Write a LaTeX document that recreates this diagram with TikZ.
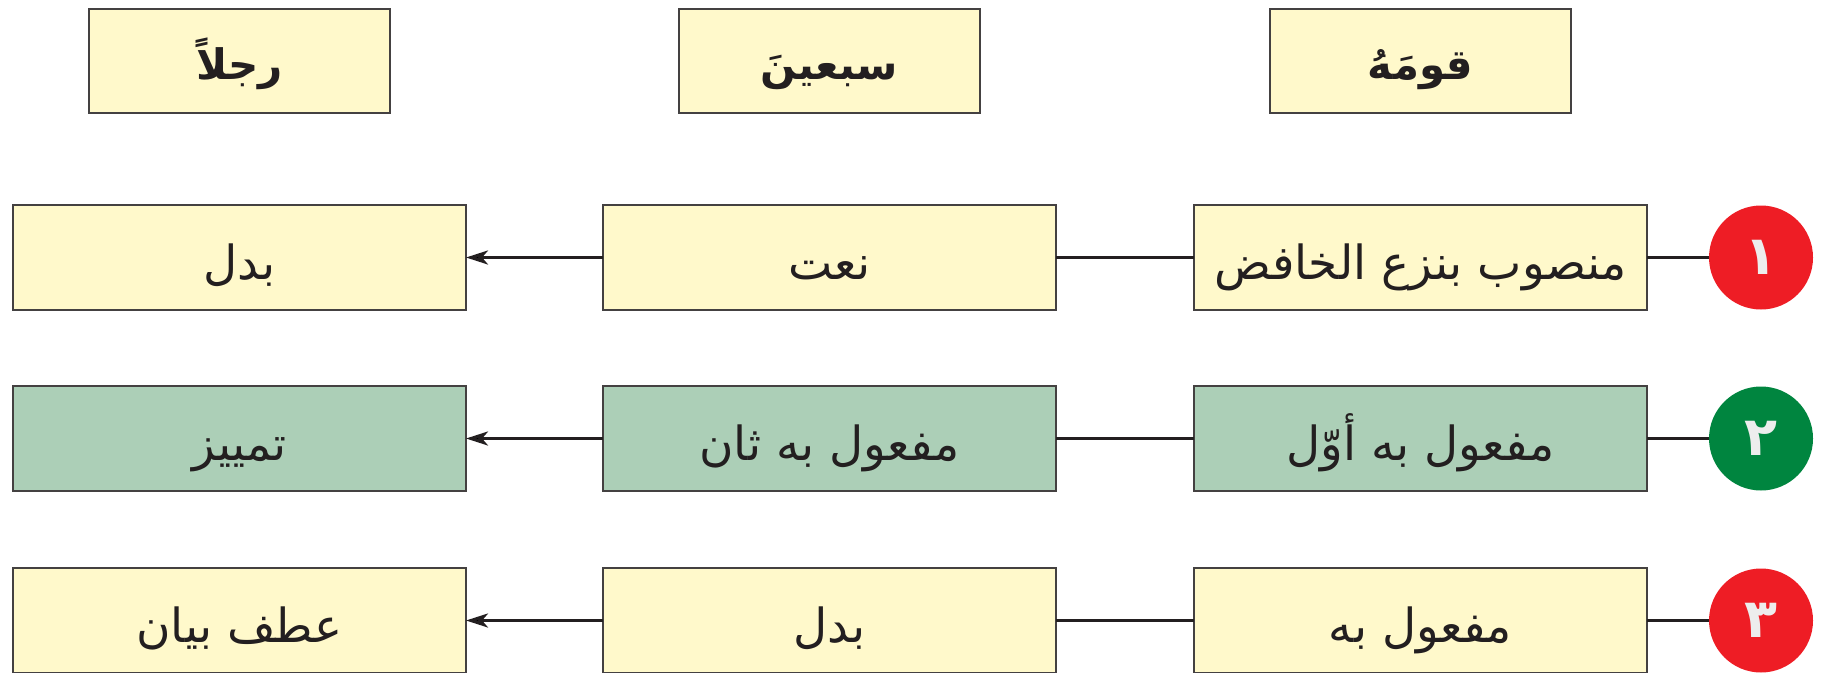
\documentclass[tikz,border=0pt]{standalone}
\usepackage{fontspec}
\usetikzlibrary{positioning, arrows.meta}
\newfontfamily\arabicfont[Script=Arabic]{DejaVu Sans}
\TeXXeTstate=1
\definecolor{boxyellow}{HTML}{FFF9CB}
\definecolor{boxgreen}{HTML}{ACCFB7}
\definecolor{numred}{HTML}{EE1D25}
\definecolor{numgreen}{HTML}{00853F}
\definecolor{inkline}{HTML}{231F20}
\newcommand{\arabtext}[1]{\arabicfont\beginR #1\endR}

\begin{document}
\begin{tikzpicture}[x=1pt,y=-1pt,>={Stealth[length=22pt,width=14pt,inset=6pt]},
    box/.style={draw=inkline!85, line width=1.5pt, fill=boxyellow, minimum width=453pt,
        minimum height=105pt, inner sep=0pt, outer sep=0pt, text=inkline,
        text height=52pt, text depth=8pt, font=\fontsize{47}{54}\selectfont},
    word/.style={box, minimum width=301pt, minimum height=104pt,
        text height=46pt, text depth=10pt, font=\fontsize{42}{48}\selectfont\bfseries},
    num/.style={circle, minimum size=104pt, inner sep=0pt, outer sep=0pt,
        text=white!93!black, font=\fontsize{54}{60}\selectfont\bfseries},
    link/.style={draw=inkline, line width=3pt}]

    \useasboundingbox (0,0) rectangle (1825,672);

    % row 1
    \node[num, fill=numred] (c1) at (1761,257.5) {\arabtext{١}};
    \node[box] (r1) [left=62pt of c1] {\arabtext{منصوب بنزع الخافض}};
    \node[box] (m1) [left=138pt of r1] {\arabtext{نعت}};
    \node[box] (l1) [left=137pt of m1] {\arabtext{بدل}};

    % row 2
    \node[num, fill=numgreen] (c2) at (1761,438.5) {\arabtext{٢}};
    \node[box, fill=boxgreen] (r2) [left=62pt of c2] {\arabtext{مفعول به أوّل}};
    \node[box, fill=boxgreen] (m2) [left=138pt of r2] {\arabtext{مفعول به ثان}};
    \node[box, fill=boxgreen] (l2) [left=137pt of m2] {\arabtext{تمييز}};

    % row 3
    \node[num, fill=numred] (c3) at (1761,620.5) {\arabtext{٣}};
    \node[box] (r3) [left=62pt of c3] {\arabtext{مفعول به}};
    \node[box] (m3) [left=138pt of r3] {\arabtext{بدل}};
    \node[box] (l3) [left=137pt of m3] {\arabtext{عطف بيان}};

    % words
    \node[word] (w1) [above=92pt of r1] {\arabtext{قومَهُ}};
    \node[word] (w2) [above=92pt of m1] {\arabtext{سبعينَ}};
    \node[word] (w3) [above=92pt of l1] {\arabtext{رجلاً}};

    \path[link]
    (c1) edge (r1)
    (r1) edge (m1)
    (m1) edge[->] (l1)
    (c2) edge (r2)
    (r2) edge (m2)
    (m2) edge[->] (l2)
    (c3) edge (r3)
    (r3) edge (m3)
    (m3) edge[->] (l3)
    ;
\end{tikzpicture}
\end{document}
